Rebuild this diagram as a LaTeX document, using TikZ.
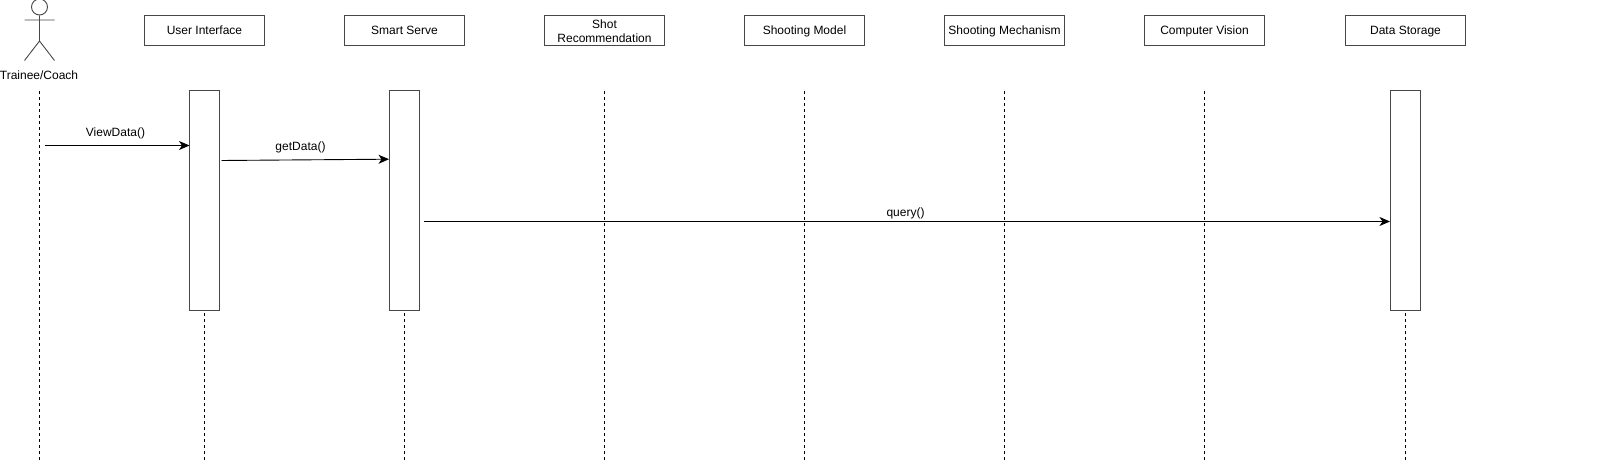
\documentclass[tikz,border=0pt]{standalone}
\usepackage{fontspec}
\setmainfont{Liberation Sans}
\usetikzlibrary{arrows.meta,calc}
\tikzset{
  x=1pt,y=-1pt,
  objbox/.style={draw=black!72,line width=.9pt,minimum width=120pt,minimum height=30pt,inner sep=0pt,align=center,font=\fontsize{12}{14}\selectfont,anchor=center},
  obj/.style={objbox,text height=11.5pt,text depth=2.5pt},
  activation/.style={draw=black!72,line width=.9pt,minimum width=30pt,minimum height=220pt,inner sep=0pt,fill=white},
  lifeline/.style={draw=black,line width=.8pt,dash pattern=on 3pt off 3pt},
  msg/.style={draw=black,line width=.9pt,-{Stealth[length=10.5pt,width=9pt,inset=3pt]}},
  lbl/.style={inner sep=0pt,font=\fontsize{12}{14}\selectfont,text=black},
  actorline/.style={draw=black!72,line width=.9pt}
}
\begin{document}
\begin{tikzpicture}
\useasboundingbox (0,0) rectangle (1607,462);
% objects
\node[obj] (ui) at (204.5,30.5) {User Interface};
\node[obj] (ss) at (404.5,30.5) {Smart Serve};
\node[objbox] (sr) at (604.5,30.5) {\rule{0pt}{11pt}Shot\\Recommendation};
\node[obj] (sm) at (804.5,30.5) {Shooting Model};
\node[obj] (sh) at (1004.5,30.5) {Shooting Mechanism};
\node[obj] (cv) at (1204.5,30.5) {Computer Vision};
\node[obj] (ds) at (1405.5,30.5) {Data Storage};
% actor
\node[circle,draw=black!72,line width=.9pt,minimum size=16pt,inner sep=0pt] (head) at (39.5,7) {};
\coordinate (hip) at (39.5,41);
\coordinate (armL) at (24.5,20);
\coordinate (armR) at (54.5,20);
\coordinate (legL) at (24.5,60.5);
\coordinate (legR) at (54.5,60.5);
\draw[actorline] (head.south) -- (hip) (armL) -- (armR) (legL) -- (hip) -- (legR);
\node[lbl] (actor) at (39,75) {Trainee/Coach};
% lifelines
\coordinate (a0) at (39.5,91);   \coordinate (a1) at (39.5,461);
\coordinate (u1) at (204.5,313); \coordinate (u2) at (204.5,461);
\coordinate (s1) at (404.5,313); \coordinate (s2) at (404.5,461);
\coordinate (r0) at (604.5,91);  \coordinate (r1) at (604.5,461);
\coordinate (m0) at (804.5,91);  \coordinate (m1) at (804.5,461);
\coordinate (h0) at (1004.5,91); \coordinate (h1) at (1004.5,461);
\coordinate (c0) at (1204.5,91); \coordinate (c1) at (1204.5,461);
\coordinate (d1) at (1405.5,313);\coordinate (d2) at (1405.5,461);
\foreach \p/\q in {a0/a1,u1/u2,s1/s2,r0/r1,m0/m1,h0/h1,c0/c1,d1/d2}
  \draw[lifeline] (\p) -- (\q);
% activations
\node[activation] (uia) at (204.5,200.5) {};
\node[activation] (ssa) at (404.5,200.5) {};
\node[activation] (dsa) at (1405.5,200.5) {};
% messages
\coordinate (v0) at (44.5,145.5); \coordinate (v1) at (189.5,145.5);
\coordinate (g0) at (221.5,160.5); \coordinate (g1) at (389,159.2);
\coordinate (q0) at (423.5,221.5); \coordinate (q1) at (1390,221.5);
\draw[msg] (v0) -- (v1);
\draw[msg] (g0) -- (g1);
\draw[msg] (q0) -- (q1);
\node[lbl] (tv) at (115.5,133) {ViewData()};
\node[lbl] (tg) at (300.5,147) {getData()};
\node[lbl] (tq) at (905.5,213.5) {query()};
\end{tikzpicture}
\end{document}
